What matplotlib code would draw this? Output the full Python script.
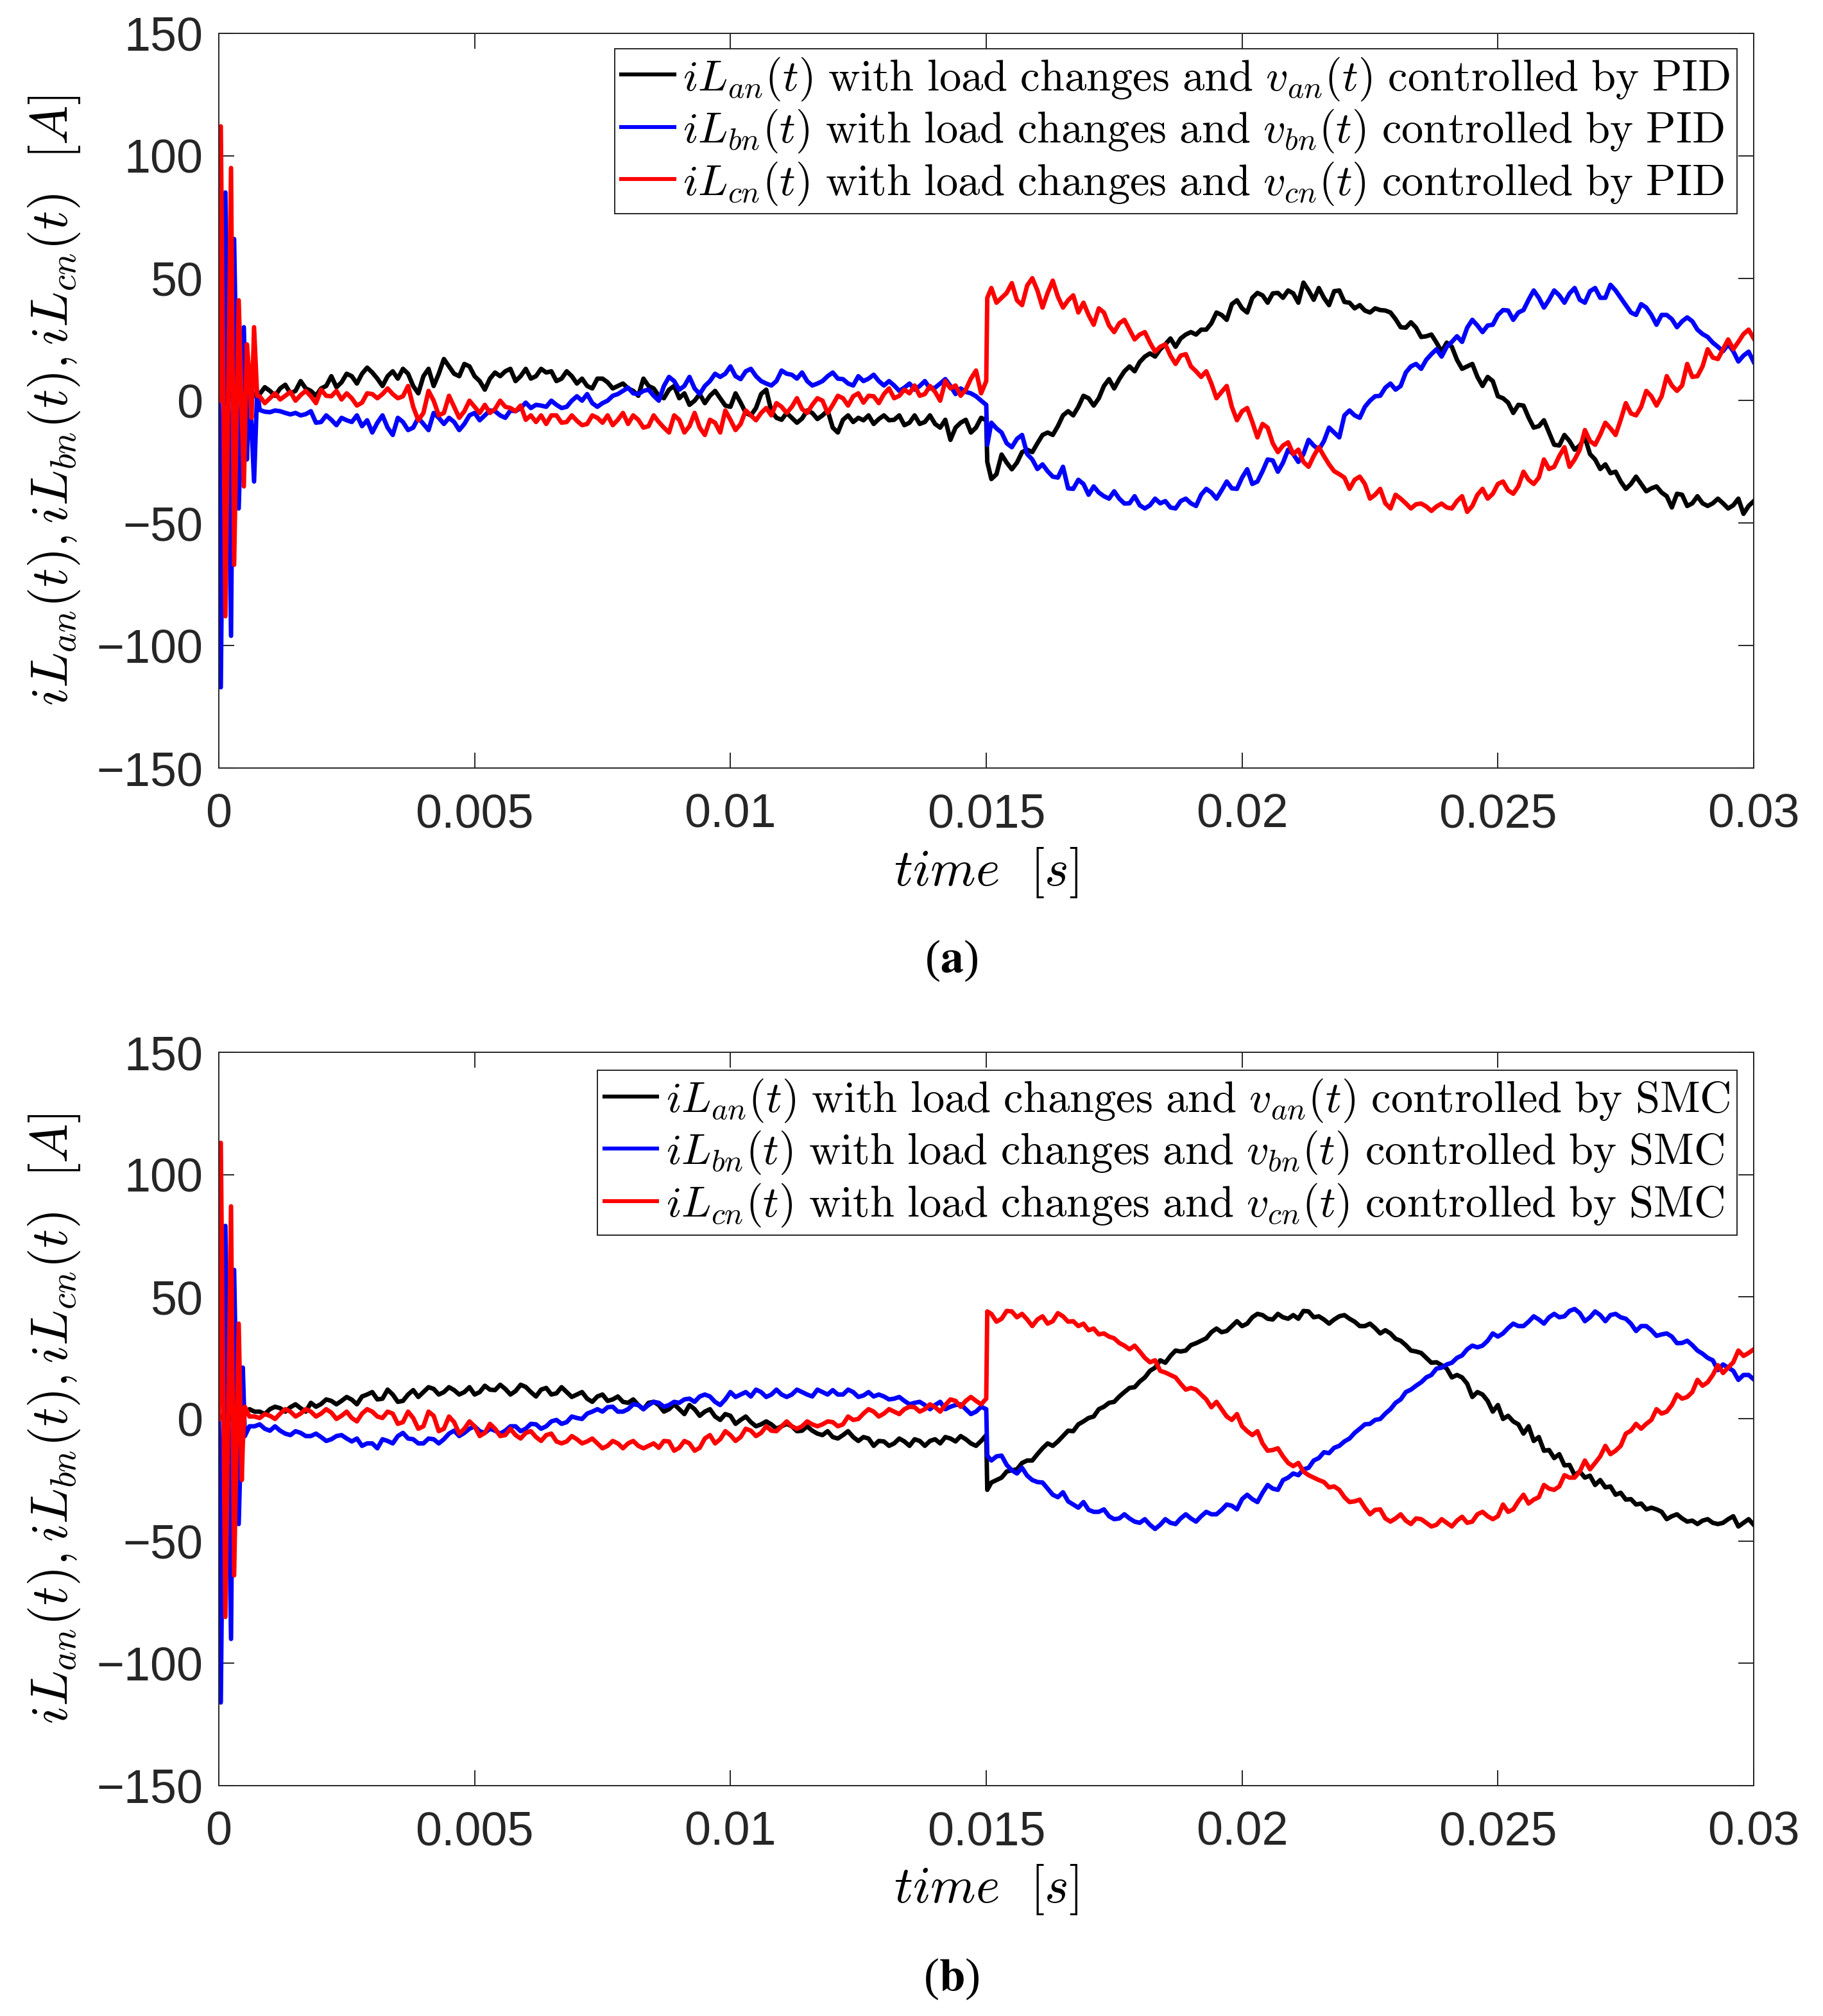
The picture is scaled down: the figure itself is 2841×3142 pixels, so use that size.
import numpy as np
import matplotlib
matplotlib.use("Agg")
import matplotlib.pyplot as plt

plt.rcParams['mathtext.fontset'] = 'cm'
plt.rcParams['font.family'] = ['Liberation Sans', 'DejaVu Sans']

# time grids (ms)
t_tr_a = [0, 0.04, 0.13, 0.24, 0.30, 0.39, 0.49, 0.55, 0.60, 0.64, 0.69, 0.75]
t_tr_b = [0, 0.04, 0.13, 0.24, 0.30, 0.39, 0.45, 0.47, 0.51, 0.60, 0.70]
t_pre = list(np.round(np.arange(4, 76) * 0.2, 2))                # 0.8 .. 15.0
t_pre_mid = list(np.round(np.arange(4, 75) * 0.2 + 0.1, 2))      # 0.9 .. 14.9
t_post = [15.02] + list(np.round(np.arange(76, 151) * 0.2, 2))   # 15.02, 15.2 .. 30.0
t_post_mid = list(np.round(np.arange(75, 150) * 0.2 + 0.1, 2))   # 15.1 .. 29.9

# ---------------- (a) PID ----------------
a_black_tr = [0, 2, -1, 3, 0, 2, 1, 3, 2, 4, 2, 3]
a_blue_tr = [0, -117, 85, -96, 66, -44, 30, -24, 5, -10, -33, 4]
a_red_tr = [0, 112, -88, 95, -67, 41, -35, 23, 10, -7, 30, 2]

a_black_pre = [2.7, 4, 5, 3, 8, 4, 5, 10, 7.5, 10,
               11, 11.5, 6, 12, 13, 6, 10, 6, 17, 11,
               15, 10, 4.5, 11.5, 12, 8, 13, 10, 11.5, 8,
               12, 7, 6, 9, 7.5, 6, 5, 2, 6, 2,
               4.5, 1, -1.7, 2.7, 2, 1, -2.5, -0.8, -6, 2.7,
               -4.3, -7.8, -7, -7.3, -5, -6, -11, -7.8, -8.7, -8,
               -9.5, -6, -7.8, -10, -6, -8.7, -9.5, -7.8, -11, -7.8,
               -11, -8]
a_black_pre_mid = [5.5, 2, 6.5, 4, 5, 2, 6, 5.5, 11, 7,
                   13.5, 9, 10, 9, 11, 3, 13, 11, 14, 10,
                   14, 8, 9, 10, 13, 10, 9, 13, 12, 9,
                   10, 9, 5, 9, 5, 7, 4, 9, 5, 1,
                   6, 3, 0, -1, 4, -2, 3, -5, -3, 4.5,
                   -7, -5, -9, -4, -7.5, -4, -13, -6, -7, -6,
                   -7.5, -8, -6, -9, -9.5, -6, -11, -16, -9, -13,
                   -7]
a_black_post = [-25,
                -30, -25.3, -25.3, -20, -17.4, -13, -10.4, -4.3, -2.5, 1,
                1, 8.8, 8.8, 14, 15.8, 19.3, 21, 25.4, 25.4, 28,
                29, 31.6, 35, 39.4, 37.7, 42, 43, 43.8, 42, 43.8,
                48.2, 41.2, 42, 44.7, 40.3, 37.7, 36.8, 37.7, 36.8, 33.3,
                29.8, 29.8, 26.3, 23.7, 23.7, 16.7, 14, 9.7, 9.7, 1.8,
                -0.8, -1.7, -6.9, -10.4, -13, -18.3, -16.5, -18.3, -21.8, -27.9,
                -29.6, -33, -34, -34, -35.8, -37.5, -43.6, -38.4, -41.9, -41.9,
                -41.9, -41.9, -42.7, -46.2, -41]
a_black_post_mid = [-32, -22, -28, -21, -21, -14, -14, -6, -6, 2,
                    -2, 6, 5, 12, 12, 18, 18, 23, 22, 27,
                    27, 29, 36, 33, 41, 36, 44, 40, 44, 45,
                    40, 45, 46, 39, 45, 40, 39, 36, 37, 36,
                    30, 32, 26, 27, 20, 22, 13, 15, 6, 8,
                    1, -5, -2, -11, -8, -18, -14, -20, -15, -24,
                    -26, -29, -36, -31, -37, -35, -39, -38, -43, -39,
                    -43, -40, -44, -40, -43]

a_blue_pre = [-3.8, -4.7, -4.3, -5.6, -6, -4.3, -8.7, -7.8, -7, -8.7,
              -10.4, -13, -6, -14, -8.7, -11, -9.5, -5, -9.5, -8.7,
              -9.5, -5, -6, -4.3, -7, -4.3, -0.8, -1.7, -2.5, -1.7,
              -2.5, 1.8, 2.7, -2.5, 0, 2.7, 5.3, 2.7, 4.5, 0,
              9.7, 4.5, 9.7, 2.7, 8, 9.7, 14, 8.8, 13, 8,
              6.2, 12.3, 10.6, 11.5, 6.2, 8, 11.5, 8.8, 6.2, 8,
              10.6, 6.2, 6.2, 5.3, 4.5, 8, 5.3, 8.8, 2.7, 3.6,
              1.8, -1.7]
a_blue_pre_mid = [-4.5, -4, -5, -5, -5.5, -9, -6, -10, -8, -6,
                  -8, -9, -11, -7, -12, -7, -12, -7, -7, -12,
                  -6, -8, -4, -6, -4, -3, -3, -2, 0, -3,
                  0, 0, -1, -1, 2, 4, 3, 4, 2, 6,
                  8, 6, 5, 6, 11, 11, 10, 12, 10, 7,
                  8, 11, 9, 8, 7, 10, 9, 7, 10, 9,
                  8, 8, 4, 7, 6, 5, 7, 6, 5, 3,
                  0]
a_blue_post = [-18,
               -11.3, -17.4, -15.6, -21.8, -27.9, -28.8, -31.4, -35.8, -32.3, -38.4,
               -37.5, -40, -40, -41.9, -42.7, -42.7, -41.9, -43.6, -41, -41.9,
               -38.4, -37.5, -36.6, -35.8, -31.4, -34, -28.8, -24.4, -25.3, -21.8,
               -21.8, -18.3, -16.5, -13, -6, -6, -2.5, 1.8, 5.3, 4.5,
               11.5, 15, 16.7, 21, 22, 26.3, 29.8, 30.7, 30.7, 35,
               36.8, 36, 41.2, 42, 41.2, 43, 43.8, 41.2, 44.7, 42,
               47.3, 42, 36, 39.4, 35, 35, 33.3, 32.4, 32.4, 27.2,
               23.7, 20.2, 20.2, 18.4, 15.8]
a_blue_post_mid = [-9, -13, -19, -14, -24, -26, -31, -27, -36, -34,
                   -35, -39, -37, -42, -39, -44, -40, -41, -44, -40,
                   -43, -36, -40, -33, -36, -28, -33, -24, -29, -20,
                   -25, -16, -20, -11, -15, -4, -7, 0, 2, 7,
                   6, 14, 13, 19, 18, 24, 24, 33, 28, 31,
                   37, 33, 37, 45, 38, 45, 40, 46, 40, 46,
                   42, 45, 39, 35, 38, 31, 35, 30, 34, 29,
                   26, 22, 23, 16, 20]

a_red_pre = [1.8, 1, 0.5, 3.6, 2.3, 1.8, 4.5, 1.8, 0.5, 1,
             -0.8, 2.7, 2.7, 2.7, 1.8, -2.5, -5, 0, -5, -2.5,
             -4.3, -2.5, -1.7, -3.4, -2.5, -4.3, -7.8, -8.7, -9.5, -6,
             -8.7, -8.2, -9.5, -7, -6, -7.8, -9.5, -7.8, -10.4, -8.7,
             -13, -7.8, -10.4, -11, -7.8, -13, -7.8, -9.5, -6, -5,
             -6, -2.5, -2.5, -3.4, -1.7, 0, -1.7, 1, 1.8, -0.8,
             1.8, 2.7, 1, 4.5, 6.2, 2.7, 3.6, 8, 6.2, 4.5,
             12.3, 8]
a_red_pre_mid = [-1, 3, 2, 0, 4, -1, 2, 4, 3, -2,
                 3, 1, 5, 1, 6, -8, 4, -6, 2, -7,
                 0, -5, -5, 0, -3, -2, -6, -6, -6, -9,
                 -6, -10, -6, -9, -10, -5, -6, -11, -6, -11,
                 -6, -13, -5, -14, -9, -4, -12, -4, -8, -3,
                 -1, -5, 1, -5, 1, -5, 2, -2, 3, 2,
                 -1, 5, 2, 3, 2, 6, 0, 5, 2, 9,
                 3]
a_red_post = [42,
              40, 44, 41, 47, 45, 44, 42.5, 41, 36, 35,
              37.7, 30.7, 31.6, 29, 27, 23.7, 22, 18.4, 18.4, 14,
              9.7, 7, 3.6, -2.5, -4.3, -8.7, -9.5, -17.4, -18.3, -21.8,
              -25, -22.6, -22.6, -28.8, -31.4, -32.3, -34, -38.4, -41.9, -38.4,
              -41.9, -42.3, -43.2, -43.2, -43.6, -41, -45.4, -38.4, -40, -34,
              -36.6, -34.9, -32.3, -31.4, -27.9, -22.6, -27, -20, -16.5, -13.9,
              -11.3, -7.8, -5.2, -2.5, 1.8, 1.8, 6.2, 6.2, 9.7, 14,
              17.6, 21, 21, 27.2, 25.4]
a_red_post_mid = [46, 42, 48, 39, 50, 38, 49, 38, 43, 40,
                  31, 36, 28, 33, 25, 28, 20, 23, 15, 19,
                  12, 12, 1, 6, -8, -3, -15, -11, -21, -17,
                  -20, -27, -19, -26, -30, -36, -31, -40, -36, -44,
                  -40, -44, -42, -45, -42, -44, -39, -43, -36, -38,
                  -33, -38, -29, -34, -24, -27, -19, -24, -12, -18,
                  -9, -14, -1, -6, 4, -2, 10, 4, 15, 10,
                  21, 17, 25, 24, 29]

# ---------------- (b) SMC ----------------
b_black_tr = [0, 1, 2, 0, 3, 1, 2, 3, 2, 4, 3]
b_blue_tr = [0, -116, 79, -90, 61, -43, 5, 21, -7, -3, -3]
b_red_tr = [0, 113, -81, 87, -64, 39, -25, -10, 5, 1, 1]

b_black_pre = [3, 4, 4.4, 4.8, 4.4, 6.6, 6.1, 7.4, 7.4, 7.9,
               9.2, 11, 8.3, 10, 7.4, 11.8, 11, 12.3, 11, 11.8,
               11, 10, 13.6, 11.8, 12.3, 11.4, 13.1, 9.2, 12.7, 10.5,
               11, 10, 8.3, 9.2, 7.4, 9.2, 6.6, 5.7, 6.6, 5.7,
               4, 4, 5.7, 1.3, 4, -0.4, 1.3, -0.4, -1.3, -2.2,
               -2.2, -3, -3, -4.8, -4.8, -6.6, -7.4, -6.6, -7.4, -7.4,
               -11, -9.2, -10, -9.2, -8.3, -11, -8.3, -7.4, -9.2, -8.3,
               -11, -6.6]
b_black_pre_mid = [2, 5, 3, 6, 3, 5, 8, 6, 9, 6,
                   10, 8, 12, 7, 10, 9, 13, 10, 13, 10,
                   13, 11, 12, 14, 10, 14, 11, 12, 10, 13,
                   9, 11, 7, 10, 8, 7, 8, 4, 7, 3,
                   6, 2, 4, 3, 1, 2, -2, 1, -3, -1,
                   -4, -2, -5, -3, -6, -5, -8, -5, -9, -8,
                   -9, -11, -8, -11, -9, -9, -10, -8, -7, -10,
                   -9]
b_black_post = [-29,
                -25, -21.5, -20.6, -17, -14.4, -10, -9.2, -4.8, -2.2, 0.4,
                4, 6.6, 9.2, 12.7, 15.3, 19.7, 24, 25.8, 27.6, 30.2,
                32, 35.5, 35.5, 38, 38, 41.6, 42.5, 40.7, 41.6, 42.5,
                44.2, 41.6, 40.7, 40.7, 42.5, 39.8, 38, 37.2, 36.3, 32.8,
                30.2, 27.6, 25, 23.2, 20.6, 18, 14.4, 11, 7.4, 5.7,
                1.3, -2.2, -3, -7.4, -12.7, -14.4, -18.8, -21.5, -23.2, -25,
                -27.6, -30.2, -32.8, -34.6, -36.3, -38, -39.8, -40.7, -41.6, -41.6,
                -42.5, -42.5, -39.8, -42.5, -43.3]
b_black_post_mid = [-26, -24, -21, -18, -17, -12, -11, -7, -5, -1,
                    1, 5, 7, 11, 13, 17, 21, 23, 28, 28,
                    31, 33, 37, 36, 40, 39, 43, 41, 43, 41,
                    41, 44, 42, 39, 42, 41, 38, 39, 35, 35,
                    32, 28, 27, 23, 22, 17, 17, 9, 10, 3,
                    0, -1, -6, -9, -13, -16, -19, -23, -24, -27,
                    -28, -31, -33, -35, -37, -37, -41, -39, -42, -43,
                    -41, -43, -41, -44, -41]

b_blue_pre = [-2.2, -4.8, -4.8, -6.6, -5.7, -7, -7.4, -8.3, -6.6, -9.2,
              -11, -10, -8.3, -10, -5.7, -8.3, -10, -8.3, -8.3, -4.8,
              -5.7, -3, -5.7, -4.8, -4.8, -3, -4, -2.2, -3, -0.4,
              -1.3, 0.4, 2.2, 4, 4.8, 3, 4, 5.7, 5.7, 6.6,
              5.7, 6.6, 8.3, 9.2, 9.2, 5.7, 11, 10, 9.2, 11,
              10, 10, 10, 11, 9.2, 11, 11.8, 10, 11, 9.6,
              9.2, 9.2, 8.3, 7.4, 6.6, 5.7, 5.7, 4, 5.7, 4,
              3, 4]
b_blue_pre_mid = [-4, -3, -6, -5, -7, -6, -9, -7, -8, -8,
                  -10, -12, -9, -7, -8, -10, -8, -10, -6, -7,
                  -4, -5, -4, -6, -3, -5, -2, -4, -1, -2,
                  1, 0, 3, 3, 5, 3, 6, 4, 7, 5,
                  7, 8, 7, 10, 7, 8, 9, 11, 12, 9,
                  12, 9, 12, 10, 12, 10, 10, 12, 9, 11,
                  10, 8, 9, 6, 7, 4, 7, 5, 6, 2,
                  5]
b_blue_post = [-15,
               -15.3, -18.8, -22.3, -23.2, -25.8, -28.5, -32, -33.7, -36.3, -37.2,
               -38, -39.8, -40.7, -40.7, -42.5, -43.3, -43.3, -42.5, -40.7, -40.7,
               -39.8, -39, -37.2, -35.5, -32.8, -32.8, -30.2, -28.5, -25, -22.3,
               -20.6, -17, -13.6, -11.8, -9.2, -5.7, -2.2, -0.4, 2.2, 6.6,
               11, 13.6, 17, 20.6, 22.3, 25, 28.5, 29.3, 32, 33.7,
               37.2, 38, 39.8, 40.7, 41.6, 41.6, 44.2, 43.3, 41.6, 42.5,
               42.5, 41.6, 39, 38, 36.3, 34.6, 33.7, 31.1, 30.2, 26.7,
               24, 22.3, 19.7, 18, 16.2]
b_blue_post_mid = [-17, -15, -21, -20, -25, -26, -31, -30, -35, -34,
                   -38, -37, -41, -39, -42, -41, -45, -41, -43, -39,
                   -42, -38, -39, -35, -37, -31, -34, -27, -29, -24,
                   -23, -20, -16, -14, -11, -8, -4, -2, 0, 4,
                   8, 12, 15, 18, 21, 23, 26, 30, 30, 35,
                   35, 39, 38, 42, 39, 43, 42, 45, 40, 44,
                   40, 43, 41, 36, 38, 34, 35, 31, 32, 28,
                   25, 20, 21, 16, 18]

b_red_pre = [0.4, 1.3, 2.2, 3, 2.2, 3, 2.2, 2.6, 1.3, 0.4,
             2.2, 3, 0.4, 2.2, -1.3, 0.4, -3, 1.3, -4, -1.3,
             -4, -3, -5.7, -4, -6.6, -6.6, -5.7, -7.4, -6.6, -9.2,
             -9.2, -8.3, -9.2, -10, -11, -10, -10, -11, -11, -11.8,
             -9.2, -11.8, -10, -11.8, -6.6, -8.3, -6.6, -7.4, -4.8, -5.7,
             -4.8, -3, -3, -3, -2.2, -2.2, -1.3, -2.2, -0.4, 2.2,
             3, 2.2, 3, 4, 4.8, 4, 4.8, 5.7, 7.4, 7.4,
             7.4, 8.3]
b_red_pre_mid = [2, 0, 4, 1, 4, 1, 4, 0, 3, -1,
                 4, 1, 3, -2, 3, -4, 3, -5, 1, -6,
                 -1, -7, -2, -7, -4, -8, -5, -9, -6, -10,
                 -7, -10, -8, -12, -9, -12, -9, -12, -10, -9,
                 -13, -9, -13, -8, -10, -5, -9, -4, -7, -3,
                 -5, -1, -4, -1, -3, -1, -3, 1, 0, 4,
                 1, 4, 2, 5, 3, 6, 3, 8, 5, 9,
                 6]
b_red_post = [44,
              39.8, 44.2, 41.6, 40.7, 40.7, 39, 43.3, 39.8, 38, 36.3,
              34.6, 33.7, 31.1, 28.5, 27.6, 23.2, 19.7, 18, 14.4, 12.7,
              10, 4.8, 4, -0.4, -3, -6.6, -10, -12.7, -15.3, -19.3,
              -21.5, -24, -25.8, -27.6, -32, -33.7, -36.3, -37.2, -40.7, -40.7,
              -41.6, -40.7, -42.5, -43.3, -42.5, -41.6, -42.5, -39, -39.8, -39.8,
              -38, -33.7, -34.6, -32, -28.5, -27.6, -24, -21.5, -20.6, -15.3,
              -14.4, -11, -4.8, -4, -0.4, 2.2, 5.7, 8.3, 11, 13.6,
              18, 18.8, 23.2, 25.8, 28.5]
b_red_post_mid = [43, 41, 44, 43, 38, 42, 40, 42, 40, 39,
                  37, 35, 33, 30, 30, 25, 24, 19, 17, 12,
                  12, 8, 7, 1, 2, -5, -5, -13, -12, -18,
                  -18, -23, -25, -28, -29, -34, -33, -39, -37, -42,
                  -39, -43, -41, -44, -41, -44, -40, -42, -38, -41,
                  -35, -37, -31, -33, -27, -29, -23, -24, -17, -18,
                  -11, -13, -6, -2, -2, 4, 3, 10, 9, 16,
                  15, 22, 21, 28, 27]

xticks = [0, 0.005, 0.01, 0.015, 0.02, 0.025, 0.03]
xticklabels = ['0', '0.005', '0.01', '0.015', '0.02', '0.025', '0.03']
yticks = [-150, -100, -50, 0, 50, 100, 150]
yticklabels = ['\u2212150', '\u2212100', '\u221250', '0', '50', '100', '150']

phases = ['an', 'bn', 'cn']
colors = ['#000000', '#0000FF', '#FF0000']


def make_label(ph, ctrl):
    return (r'$iL_{%s}(t)\ \mathrm{with\ load\ changes\ and}\ v_{%s}(t)'
            r'\ \mathrm{controlled\ by\ %s}$' % (ph, ph, ctrl))


def series(t_tr, tr, pre, pre_mid, post, post_mid):
    t = np.array(t_tr + t_pre + t_pre_mid + t_post + t_post_mid) * 1e-3
    y = np.array(tr + pre + pre_mid + post + post_mid, dtype=float)
    order = np.argsort(t, kind='stable')
    return t[order], y[order]


fig = plt.figure(figsize=(14.205, 15.71), dpi=200)
ax_a = fig.add_axes([0.120, 0.619, 0.842, 0.3645])
ax_b = fig.add_axes([0.120, 0.1143, 0.842, 0.3637])

panels = [
    (ax_a, t_tr_a, 'PID', 0.979,
     [(a_black_tr, a_black_pre, a_black_pre_mid, a_black_post, a_black_post_mid),
      (a_blue_tr, a_blue_pre, a_blue_pre_mid, a_blue_post, a_blue_post_mid),
      (a_red_tr, a_red_pre, a_red_pre_mid, a_red_post, a_red_post_mid)]),
    (ax_b, t_tr_b, 'SMC', 0.9755,
     [(b_black_tr, b_black_pre, b_black_pre_mid, b_black_post, b_black_post_mid),
      (b_blue_tr, b_blue_pre, b_blue_pre_mid, b_blue_post, b_blue_post_mid),
      (b_red_tr, b_red_pre, b_red_pre_mid, b_red_post, b_red_post_mid)]),
]

for ax, t_tr, ctrl, leg_y, data in panels:
    for k in range(3):
        t, y = series(t_tr, *data[k])
        ax.plot(t, y, color=colors[k], lw=2.5, label=make_label(phases[k], ctrl))
    ax.set_xlim(0, 0.03)
    ax.set_ylim(-150, 150)
    ax.set_xticks(xticks)
    ax.set_xticklabels(xticklabels)
    ax.set_yticks(yticks)
    ax.set_yticklabels(yticklabels)
    ax.tick_params(direction='in', length=8.6, width=0.7, top=True, right=True,
                   colors='#262626', labelcolor='#262626', labelsize=26.5)
    ax.tick_params(axis='x', pad=14)
    ax.tick_params(axis='y', pad=9)
    for s in ax.spines.values():
        s.set_linewidth(0.7)
        s.set_color('#262626')
    ax.set_xlabel(r'$time\ \ [s]$', fontsize=29)
    ax.xaxis.set_label_coords(0.5, -0.142)
    ax.xaxis.label.set_va('center')
    ax.set_ylabel(r'$iL_{an}(t), iL_{bn}(t), iL_{cn}(t)\ \ [A]$', fontsize=29.5)
    ax.yaxis.set_label_coords(-0.107, 0.5)
    ax.yaxis.label.set_va('center')
    leg = ax.legend(loc='upper right', bbox_to_anchor=(0.989, leg_y), borderaxespad=0,
                    fontsize=24.7, handlelength=1.2, handletextpad=0.2, labelspacing=0.12,
                    borderpad=0.15, fancybox=False, framealpha=1, edgecolor='#262626')
    leg.get_frame().set_linewidth(0.7)
    for line in leg.get_lines():
        line.set_linewidth(2.2)

fig.text(0.522, 0.5236, r'($\mathbf{a}$)', ha='center', va='center', fontsize=26,
         family='Liberation Serif', math_fontfamily='stix')
fig.text(0.522, 0.0185, r'($\mathbf{b}$)', ha='center', va='center', fontsize=26,
         family='Liberation Serif', math_fontfamily='stix')

fig.savefig('out.png', dpi=200)
